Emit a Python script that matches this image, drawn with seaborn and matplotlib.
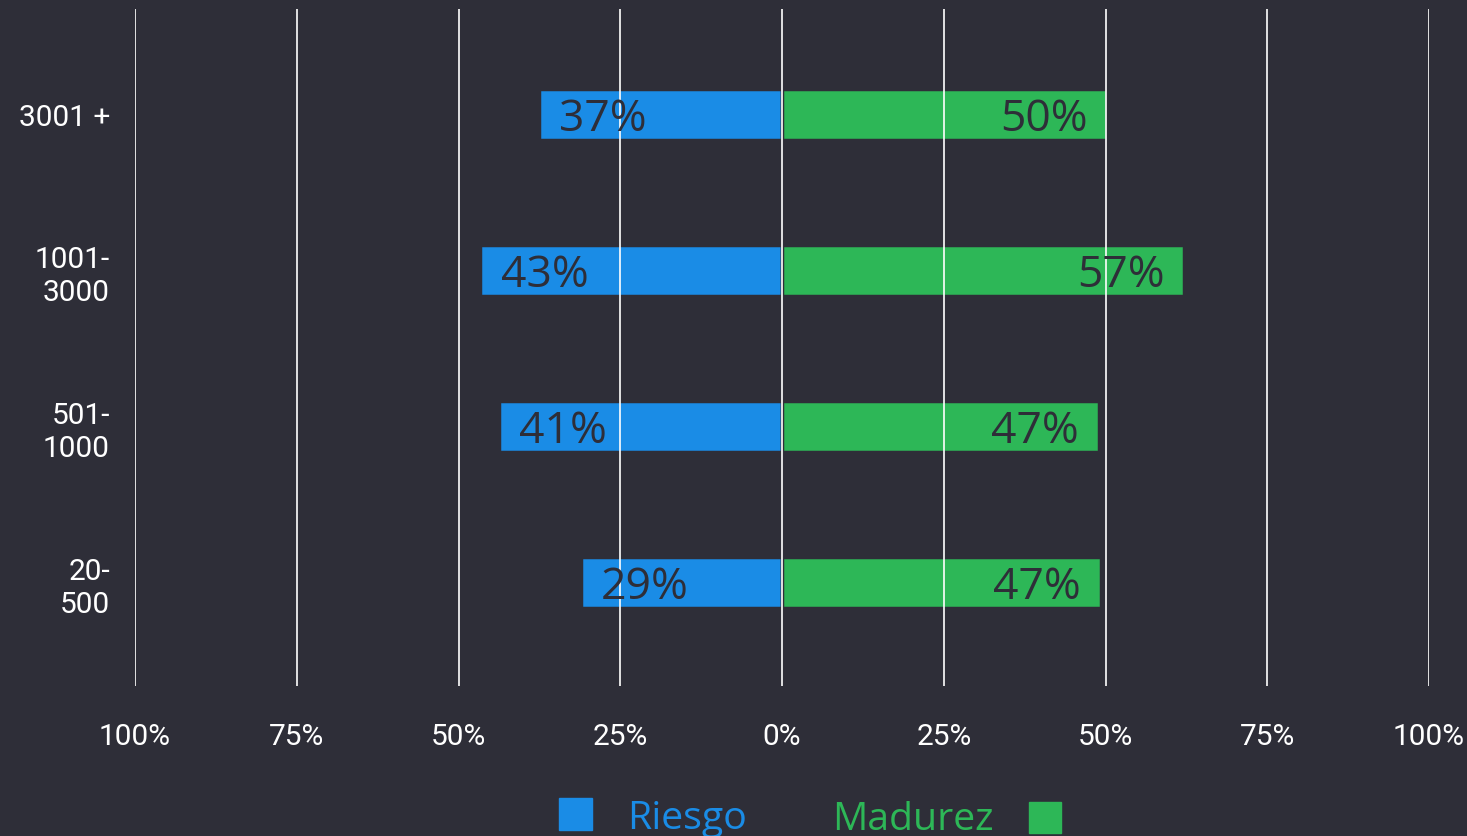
import matplotlib
matplotlib.use("Agg")
import matplotlib.pyplot as plt
import seaborn as sns
import pandas as pd
from matplotlib.patches import Rectangle

# ---- data ----
categories = ["3001 +", "1001-\n3000", "501-\n1000", "20-\n500"]
riesgo_bar = [37.6, 46.6, 43.8, 31.1]      # bar lengths as drawn
madurez_bar = [50.3, 62.2, 49.0, 49.3]
riesgo_labels = ["37%", "43%", "41%", "29%"]
madurez_labels = ["50%", "57%", "47%", "47%"]
tick_values = [-100, -75, -50, -25, 0, 25, 50, 75, 100]
tick_labels = ["100%", "75%", "50%", "25%", "0%", "25%", "50%", "75%", "100%"]

BG = "#2e2e38"
BLUE = "#1a8ce6"
GREEN = "#2db757"

df = pd.DataFrame({
    "category": categories * 2,
    "series": ["Riesgo"] * 4 + ["Madurez"] * 4,
    "value": [-v for v in riesgo_bar] + madurez_bar,
})

sns.set_theme(style="white")
plt.rcParams["font.family"] = ["Roboto", "DejaVu Sans"]

fig = plt.figure(figsize=(14.67, 8.37), dpi=100, facecolor=BG)
ax = fig.add_axes([135 / 1467, 1 - 687 / 837, (1429 - 135) / 1467, (687 - 10) / 837])
ax.set_facecolor(BG)

sns.barplot(data=df, x="value", y="category", hue="series", order=categories,
            hue_order=["Riesgo", "Madurez"], palette={"Riesgo": BLUE, "Madurez": GREEN},
            dodge=False, width=0.33, orient="h", legend=False, ax=ax, saturation=1,
            edgecolor=BG, linewidth=2.5, zorder=2)

ax.set_xlim(-100, 100)
ax.set_ylim(3.665, -0.675)
ax.set_xticks(tick_values)
ax.set_xticklabels(tick_labels)
ax.set_xlabel("")
ax.set_ylabel("")
for s in ax.spines.values():
    s.set_visible(False)
ax.grid(False)
for t in tick_values:
    ax.axvline(t, color="white", linewidth=1.2, zorder=3)

ax.tick_params(axis="x", length=0, pad=26, labelsize=21.5, labelcolor="white")
ax.tick_params(axis="y", length=0, pad=18, labelsize=21.5, labelcolor="white")
for lbl in ax.get_yticklabels():
    lbl.set_horizontalalignment("right")
    lbl.set_multialignment("right")

off = 3.1
for i in range(len(categories)):
    ax.text(-riesgo_bar[i] + off, i + 0.03, riesgo_labels[i], ha="left", va="center",
            fontsize=32, color=BG, family="Open Sans", zorder=4)
    ax.text(madurez_bar[i] - off, i + 0.03, madurez_labels[i], ha="right", va="center",
            fontsize=32, color=BG, family="Open Sans", zorder=4)

# ---- legend ----
W, H = 1467, 837
fig.patches.append(Rectangle((559 / W, 1 - 831 / H), 33 / W, 32 / H,
                             transform=fig.transFigure, color=BLUE, figure=fig))
fig.patches.append(Rectangle((1029 / W, 1 - 834 / H), 32 / W, 31 / H,
                             transform=fig.transFigure, color=GREEN, figure=fig))
fig.text(627 / W, 1 - 819 / H, "Riesgo", color=BLUE, fontsize=28.3,
         family="Open Sans", ha="left", va="center")
fig.text(832 / W, 1 - 820 / H, "Madurez", color=GREEN, fontsize=28.3,
         family="Open Sans", ha="left", va="center")

fig.savefig("out.png", dpi=100, facecolor=BG)
